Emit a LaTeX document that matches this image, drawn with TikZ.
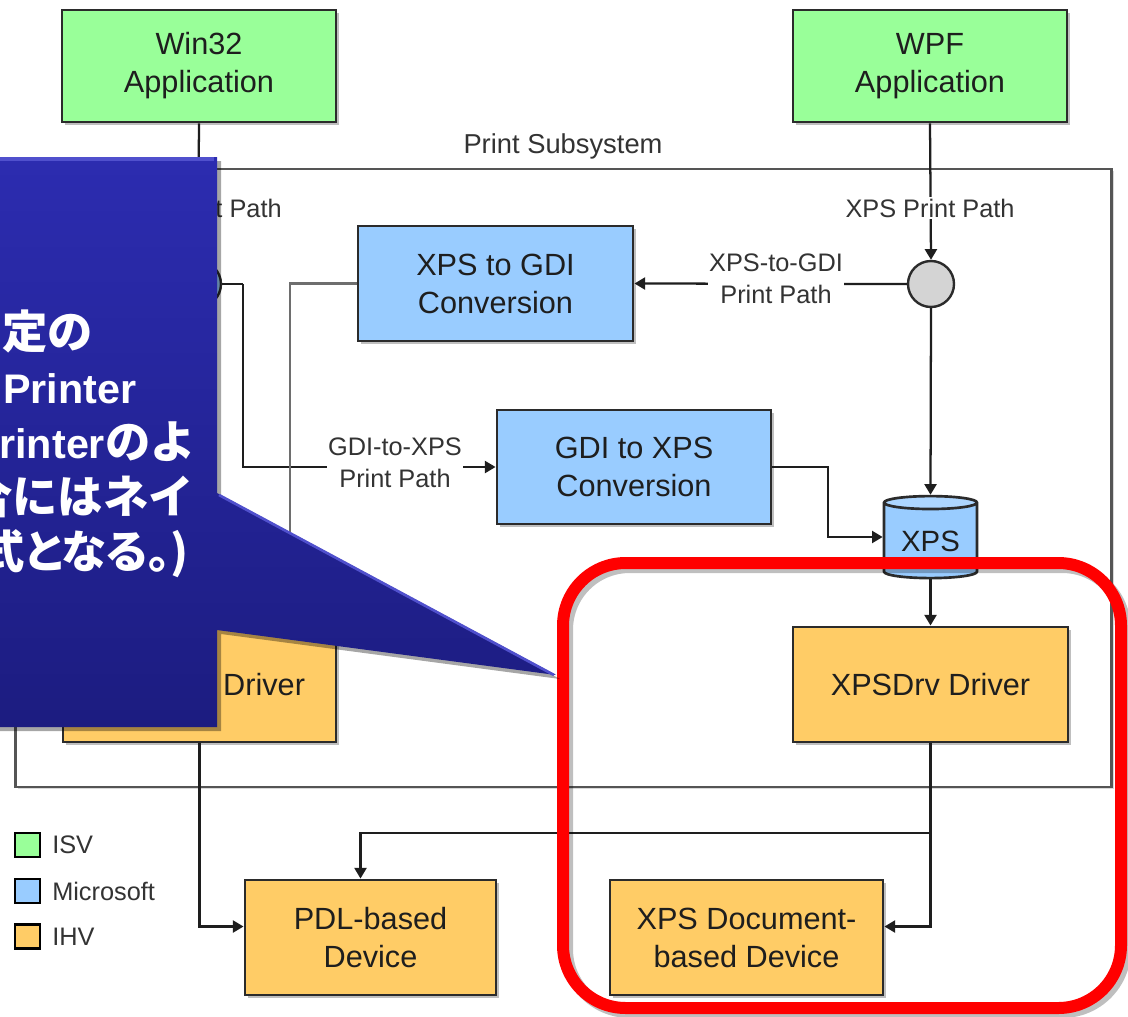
\documentclass[tikz,border=0pt]{standalone}
\usepackage{fontspec}
\setmainfont{Liberation Sans}
\newfontfamily\cjk{Noto Sans CJK JP}
\newfontfamily\cjkp{Noto Sans CJK JP}[RawFeature=+palt]
\newfontfamily\latb{Liberation Sans}
\usetikzlibrary{arrows.meta,shapes.geometric,shadows,calc}
\definecolor{isv}{HTML}{99FF99}
\definecolor{msft}{HTML}{99CCFF}
\definecolor{ihv}{HTML}{FFCC66}
\definecolor{edge}{HTML}{2B2B2B}
\definecolor{boxtext}{HTML}{1E1E1E}
\definecolor{lbl}{HTML}{333333}
\definecolor{linec}{HTML}{1E1E1E}
\definecolor{grayline}{HTML}{6E6E6E}
\definecolor{subc}{HTML}{555555}
\definecolor{calltop}{RGB}{44,44,176}
\definecolor{callbot}{RGB}{28,28,128}
\definecolor{callhi}{RGB}{80,80,205}
\definecolor{redring}{HTML}{FF0000}
\newcommand{\latin}[1]{{\latb\bfseries\fontsize{31}{40}\selectfont #1}}
\tikzset{
  sz/.style 2 args={minimum width=#1*0.75pt, minimum height=#2*0.75pt},
  box/.style={draw=edge, line width=2.2pt, align=center, inner sep=0pt,
    font=\fontsize{23}{28.5}\selectfont, text=boxtext,
    drop shadow={shadow xshift=2pt, shadow yshift=-2pt, fill=black, opacity=0.25}},
  isvbox/.style={box, fill=isv},
  msbox/.style={box, fill=msft},
  ihvbox/.style={box, fill=ihv},
  plabel/.style={font=\fontsize{19}{24}\selectfont, text=lbl, align=center,
    fill=white, inner sep=1pt},
  conn/.style={draw=linec, line width=1.7pt},
  arr/.style={conn, -{Triangle[length=8pt,width=9pt]}},
  grayarr/.style={arr, draw=grayline, line width=2pt},
  legsq/.style={draw=black, line width=2pt, minimum width=25*0.75pt,
    minimum height=24*0.75pt, inner sep=0pt},
  legtxt/.style={anchor=west, font=\fontsize{19}{24}\selectfont, text=lbl, inner sep=0pt},
  calltext/.style={text=white, font=\cjk\bfseries\fontsize{34}{40}\selectfont,
    inner sep=0pt, anchor=base east},
  calltextp/.style={calltext, font=\cjkp\bfseries\fontsize{34}{40}\selectfont}
}
\begin{document}
\begin{tikzpicture}[x=0.75pt,y=-0.75pt]
\useasboundingbox (0,0) rectangle (1128,1017);
\clip (0,0) rectangle (1128,1017);
\fill[white] (0,0) rectangle (1128,1017);

% print subsystem container
\node (sub) [draw=subc, fill=white, line width=2.2pt, sz={1096}{618},
  drop shadow={shadow xshift=1.5pt, shadow yshift=-1.5pt, fill=black, opacity=0.15}]
  at (563.5,478) {};
\node (subl) [plabel, font=\fontsize{20.5}{24}\selectfont] at (563,146) {Print Subsystem};

% boxes
\node (win32) [isvbox, sz={274}{112}] at (199,66) {Win32\\Application};
\node (wpf) [isvbox, sz={274}{112}] at (930,66) {WPF\\Application};
\node (xps2gdi) [msbox, sz={275}{115}] at (495.5,283.5) {XPS to GDI\\Conversion};
\node (gdi2xps) [msbox, sz={274}{114}] at (634,467) {GDI to XPS\\Conversion};
\node (gdidrv) [ihvbox, sz={273}{114}, text width=211*0.75pt, align=right] at (199.5,685) {Driver};
\node (xpsdrv) [ihvbox, sz={275}{115}] at (930.5,684.5) {XPSDrv Driver};
\node (pdl) [ihvbox, sz={251}{115}] at (370.5,937.5) {PDL-based\\Device};
\node (xpsdoc) [ihvbox, sz={273}{115}] at (746.5,937.5) {XPS Document-\\based Device};

% junction circles and XPS spool
\node (gdic) [circle, draw=edge, line width=1.8pt, fill=msft, minimum size=46*0.75pt, inner sep=0pt] at (198,284) {};
\node (xpsc) [circle, draw=edge, line width=1.8pt, fill=black!17, minimum size=46*0.75pt, inner sep=0pt] at (931,284) {};
\node (xpscyl) [cylinder, shape border rotate=90, aspect=0.22, draw=edge, line width=2pt,
  cylinder uses custom fill, cylinder body fill=msft, cylinder end fill=msft!80!white,
  minimum width=93*0.75pt, minimum height=82*0.75pt, inner sep=0pt,
  font=\fontsize{22}{26}\selectfont, text=boxtext] at (930.5,541) {\raisebox{-4pt}{XPS}};

% connectors
\coordinate (gdibend) at (243,284);
\coordinate (cvbend) at (828,467);
\coordinate (split) at (930.5,833);

\draw[arr] (win32.south) -- (gdic.north);
\draw[conn] (gdic.east) -- (gdibend);
\draw[arr] (gdibend) |- (gdi2xps.west);
\node (gdi2xpsl) [plabel] at (395,463) {GDI-to-XPS\\Print Path};
\draw[grayarr] (xps2gdi.west) -| ($(gdidrv.north)+(90.5,0)$);
\draw[arr] (wpf.south) -- (xpsc.north);
\node (xpsl) [plabel] at (930,208) {XPS Print Path};
\node (gdil) [plabel] at (200,208) {GDI Print Path};
\draw[arr] (xpsc.west) -- (xps2gdi.east);
\node (xps2gdil) [plabel] at (776,279) {XPS-to-GDI\\Print Path};
\draw[arr] (xpsc.south) -- (xpscyl.north);
\draw[arr] (gdi2xps.east) -- (cvbend) |- ($(xpscyl.west)+(0,-4)$);
\draw[arr] (xpscyl.south) -- (xpsdrv.north);
\draw[arr] (gdidrv.south) |- ($(pdl.west)+(0,-11)$);
\draw[conn] (xpsdrv.south) -- (split);
\draw[arr] (split) -| ($(pdl.north)+(-10,0)$);
\draw[arr] (split) |- ($(xpsdoc.east)+(0,-11)$);

% legend
\node (lg1) [legsq, fill=isv] at (27.5,845) {};
\node (lg2) [legsq, fill=msft] at (27.5,891) {};
\node (lg3) [legsq, fill=ihv] at (27.5,936.5) {};
\node (lt1) [legtxt] at (52,845) {ISV};
\node (lt2) [legtxt] at (52,891) {Microsoft};
\node (lt3) [legtxt] at (52,936.5) {IHV};

% red highlight ring
\draw[black, opacity=0.25, line width=9pt, rounded corners=47pt] (567,567) rectangle (1125,1012);
\draw[redring, line width=9pt, rounded corners=47pt] (563,563) rectangle (1121,1008);

% callout
\path[top color=calltop, bottom color=callbot,
  drop shadow={shadow xshift=3pt, shadow yshift=-3pt, fill=black, opacity=0.35}]
  (-20,157) -- (217,157) -- (217,493) -- (556,675) -- (217,630) -- (217,727) -- (-20,727) -- cycle;
\draw[callhi, line width=2.5pt] (-20,159) -- (214,159);
\draw[callhi, line width=2pt] (219,495) -- (554,675);
\node (c1) [calltext, anchor=base west] at (2,348) {定の};
\node (c2) [calltext, anchor=base west] at (3,403) {\latin{Printer}};
\node (c3) [calltext] at (196,458) {\latin{Printer}のよ};
\node (c4) [calltext] at (194,513) {場合にはネイ};
\node (c5) [calltextp] at (189,568) {式となる。)};
\end{tikzpicture}
\end{document}
